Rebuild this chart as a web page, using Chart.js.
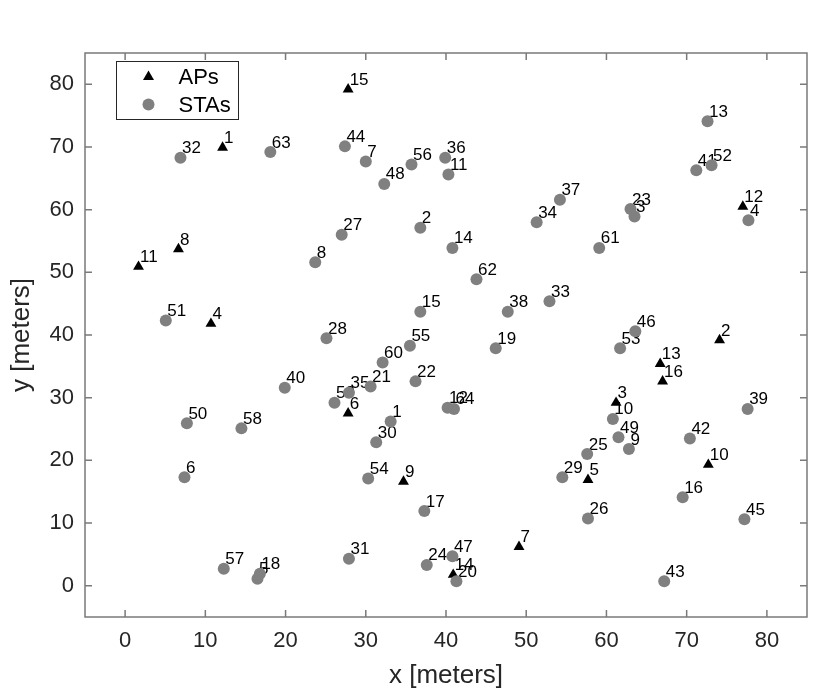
<!DOCTYPE html>
<html>
<head>
<meta charset="utf-8">
<script src="https://cdn.jsdelivr.net/npm/chart.js@4/dist/chart.umd.min.js"></script>
<style>
  html, body { margin: 0; padding: 0; background: #fff; }
  canvas { display: block; }
</style>
</head>
<body>
<canvas id="myChart" width="830" height="694"></canvas>
<script>
// access points
const apIds = [1, 2, 3, 4, 5, 6, 7, 8, 9, 10, 11, 12, 13, 14, 15, 16]
const apX = [12.15, 74.1, 61.2, 10.7, 57.7, 27.8, 49.1, 6.65, 34.7, 72.7, 1.67, 77.0, 66.7, 40.9, 27.8, 67.0]
const apY = [69.9, 39.2, 29.2, 41.8, 16.9, 27.5, 6.2, 53.7, 16.6, 19.3, 50.9, 60.5, 35.4, 1.75, 79.2, 32.6]

// stations
const staIds = [1, 2, 3, 4, 5, 6, 7, 8, 9, 10, 11, 12, 13, 14, 15, 16, 17, 18, 19, 20, 21, 22, 23, 24, 25, 26, 27, 28, 29, 30, 31, 32,
  33, 34, 35, 36, 37, 38, 39, 40, 41, 42, 43, 44, 45, 46, 47, 48, 49, 50, 51, 52, 53, 54, 55, 56, 57, 58, 59, 60, 61, 62, 63, 64]
const staX = [33.1, 36.8, 63.5, 77.7, 16.5, 7.4, 30.0, 23.7, 62.8, 60.8, 40.3, 40.2, 72.6, 40.8, 36.8, 69.5, 37.3, 16.8, 46.2, 41.3,
  30.6, 36.2, 63.0, 37.6, 57.6, 57.7, 27.0, 25.1, 54.5, 31.3, 27.9, 6.9, 52.9, 51.3, 27.9, 39.9, 54.2, 47.7, 77.6, 19.9,
  71.2, 70.4, 67.2, 27.4, 77.2, 63.6, 40.8, 32.3, 61.5, 7.7, 5.07, 73.1, 61.7, 30.3, 35.5, 35.7, 12.3, 14.5, 26.1, 32.1,
  59.1, 43.8, 18.1, 41.0]
const staY = [26.2, 57.1, 58.9, 58.3, 1.1, 17.3, 67.7, 51.6, 21.8, 26.6, 65.6, 28.4, 74.1, 53.9, 43.7, 14.1, 11.9, 1.9, 37.9, 0.7,
  31.8, 32.6, 60.1, 3.3, 21.0, 10.7, 56.0, 39.5, 17.3, 22.9, 4.3, 68.3, 45.4, 58.0, 30.8, 68.3, 61.6, 43.7, 28.2, 31.6,
  66.3, 23.5, 0.7, 70.1, 10.6, 40.6, 4.7, 64.1, 23.7, 25.9, 42.3, 67.1, 37.9, 17.1, 38.3, 67.2, 2.7, 25.1, 29.2, 35.6,
  53.9, 48.9, 69.2, 28.2]

const xTicks = [0, 10, 20, 30, 40, 50, 60, 70, 80]
const yTicks = [0, 10, 20, 30, 40, 50, 60, 70, 80]

const FONT = '"Liberation Sans", Arial, sans-serif'
const STA_COLOR = '#808080'

const toPoints = (xs, ys) => xs.map((v, i) => ({ x: v, y: ys[i] }))

// number next to each marker, drawn under the markers
const pointLabels = {
  id: 'pointLabels',
  beforeDatasetsDraw(chart) {
    const ctx = chart.ctx
    ctx.save()
    ctx.font = '17px ' + FONT
    ctx.fillStyle = '#000'
    ctx.textBaseline = 'alphabetic'
    chart.data.datasets.forEach((ds, i) => {
      chart.getDatasetMeta(i).data.forEach((pt, j) => {
        ctx.fillText(String(ds.ids[j]), pt.x + 1.5, pt.y - 4.5)
      })
    })
    ctx.restore()
  }
}

// box with inward ticks on all sides + legend box
const frame = {
  id: 'frame',
  afterDraw(chart) {
    const { ctx, chartArea: a, scales } = chart
    const x = scales.x, y = scales.y
    ctx.save()
    ctx.strokeStyle = '#7a7a7a'
    ctx.lineWidth = 1.5
    ctx.strokeRect(a.left, a.top, a.right - a.left, a.bottom - a.top)
    ctx.beginPath()
    x.ticks.forEach(t => {
      const px = x.getPixelForValue(t.value)
      ctx.moveTo(px, a.bottom); ctx.lineTo(px, a.bottom - 7)
      ctx.moveTo(px, a.top); ctx.lineTo(px, a.top + 7)
    })
    y.ticks.forEach(t => {
      const py = y.getPixelForValue(t.value)
      ctx.moveTo(a.left, py); ctx.lineTo(a.left + 7, py)
      ctx.moveTo(a.right, py); ctx.lineTo(a.right - 7, py)
    })
    ctx.stroke()

    // legend
    const lx = a.left + 31.5, ly = a.top + 8.5
    ctx.fillStyle = '#fff'
    ctx.fillRect(lx, ly, 122, 58)
    ctx.strokeStyle = '#262626'
    ctx.lineWidth = 1
    ctx.strokeRect(lx, ly, 122, 58)
    const mx = lx + 32
    const r1 = ly + 15, r2 = ly + 43
    ctx.fillStyle = '#000'
    ctx.beginPath()
    ctx.moveTo(mx, r1 - 6)
    ctx.lineTo(mx + 5.5, r1 + 3.5)
    ctx.lineTo(mx - 5.5, r1 + 3.5)
    ctx.closePath()
    ctx.fill()
    ctx.fillStyle = STA_COLOR
    ctx.beginPath()
    ctx.arc(mx, r2, 6, 0, Math.PI * 2)
    ctx.fill()
    ctx.fillStyle = '#000'
    ctx.font = '22px ' + FONT
    ctx.textBaseline = 'middle'
    ctx.fillText('APs', lx + 62, r1 + 1)
    ctx.fillText('STAs', lx + 62, r2 + 1)
    ctx.restore()
  }
}

new Chart(document.getElementById('myChart'), {
  type: 'scatter',
  data: {
    datasets: [{
      label: 'APs',
      ids: apIds,
      data: toPoints(apX, apY),
      pointStyle: 'triangle',
      pointRadius: 6.3,
      pointBackgroundColor: '#000',
      pointBorderWidth: 0,
      order: 2
    }, {
      label: 'STAs',
      ids: staIds,
      data: toPoints(staX, staY),
      pointStyle: 'circle',
      pointRadius: 6,
      pointBackgroundColor: STA_COLOR,
      pointBorderWidth: 0,
      order: 1
    }]
  },
  options: {
    responsive: false,
    animation: false,
    devicePixelRatio: 1,
    layout: { padding: { top: 53, right: 23, left: 0, bottom: 0 } },
    plugins: {
      legend: { display: false },
      tooltip: { enabled: false }
    },
    scales: {
      x: {
        type: 'linear',
        min: -5,
        max: 85,
        afterBuildTicks: s => { s.ticks = xTicks.map(v => ({ value: v })) },
        afterFit: s => { s.height = 77 },
        grid: { display: false, drawTicks: false },
        border: { display: false },
        ticks: { padding: 11, color: '#262626', font: { family: FONT, size: 22 }, maxRotation: 0 },
        title: { display: true, text: 'x [meters]', color: '#262626', font: { family: FONT, size: 26 }, padding: { top: 0, bottom: 3 } }
      },
      y: {
        type: 'linear',
        min: -5,
        max: 85,
        afterBuildTicks: s => { s.ticks = yTicks.map(v => ({ value: v })) },
        afterFit: s => { s.width = 85 },
        grid: { display: false, drawTicks: false },
        border: { display: false },
        ticks: { padding: 11, color: '#262626', font: { family: FONT, size: 22 } },
        title: { display: true, text: 'y [meters]', color: '#262626', font: { family: FONT, size: 26 }, padding: { top: 6, bottom: 0 } }
      }
    }
  },
  plugins: [pointLabels, frame]
})
</script>
</body>
</html>
